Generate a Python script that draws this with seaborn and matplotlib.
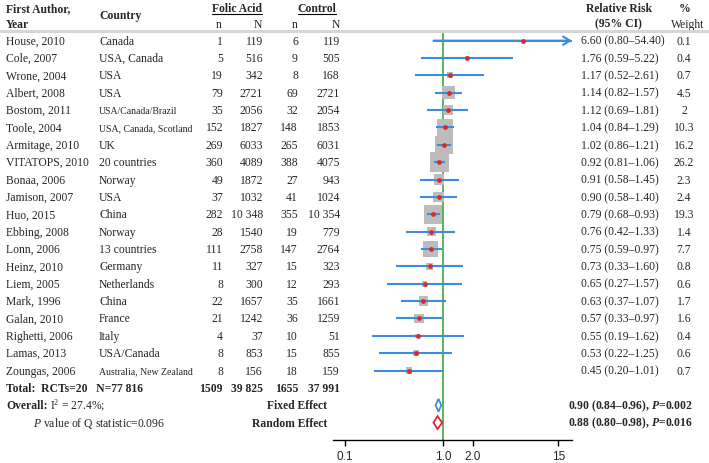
import numpy as np
import pandas as pd
import seaborn as sns
import matplotlib.pyplot as plt
from matplotlib.transforms import blended_transform_factory
from matplotlib.lines import Line2D

# study data
authors = ["House, 2010", "Cole, 2007", "Wrone, 2004", "Albert, 2008", "Bostom, 2011",
           "Toole, 2004", "Armitage, 2010", "VITATOPS, 2010", "Bonaa, 2006", "Jamison, 2007",
           "Huo, 2015", "Ebbing, 2008", "Lonn, 2006", "Heinz, 2010", "Liem, 2005",
           "Mark, 1996", "Galan, 2010", "Righetti, 2006", "Lamas, 2013", "Zoungas, 2006"]
countries = ["Canada", "USA, Canada", "USA", "USA", "USA/Canada/Brazil",
             "USA, Canada, Scotland", "UK", "20 countries", "Norway", "USA",
             "China", "Norway", "13 countries", "Germany", "Netherlands",
             "China", "France", "Italy", "USA/Canada", "Australia, New Zealand"]
fa_n = [1, 5, 19, 79, 35, 152, 269, 360, 49, 37, 282, 28, 111, 11, 8, 22, 21, 4, 8, 8]
fa_N = [119, 516, 342, 2721, 2056, 1827, 6033, 4089, 1872, 1032, 10348, 1540, 2758,
        327, 300, 1657, 1242, 37, 853, 156]
ct_n = [6, 9, 8, 69, 32, 148, 265, 388, 27, 41, 355, 19, 147, 15, 12, 35, 36, 10, 15, 18]
ct_N = [119, 505, 168, 2721, 2054, 1853, 6031, 4075, 943, 1024, 10354, 779, 2764,
        323, 293, 1661, 1259, 51, 855, 159]
rr = [6.60, 1.76, 1.17, 1.14, 1.12, 1.04, 1.02, 0.92, 0.91, 0.90, 0.79, 0.76, 0.75,
      0.73, 0.65, 0.63, 0.57, 0.55, 0.53, 0.45]
lo = [0.80, 0.59, 0.52, 0.82, 0.69, 0.84, 0.86, 0.81, 0.58, 0.58, 0.68, 0.42, 0.59,
      0.33, 0.27, 0.37, 0.33, 0.19, 0.22, 0.20]
hi = [54.40, 5.22, 2.61, 1.57, 1.81, 1.29, 1.21, 1.06, 1.45, 1.40, 0.93, 1.33, 0.97,
      1.60, 1.57, 1.07, 0.97, 1.62, 1.25, 1.01]
weight = [0.1, 0.4, 0.7, 4.5, 2, 10.3, 16.2, 26.2, 2.3, 2.4, 19.3, 1.4, 7.7,
          0.8, 0.6, 1.7, 1.6, 0.4, 0.6, 0.7]
weight_labels = ["0.1", "0.4", "0.7", "4.5", "2", "10.3", "16.2", "26.2", "2.3", "2.4",
                 "19.3", "1.4", "7.7", "0.8", "0.6", "1.7", "1.6", "0.4", "0.6", "0.7"]

totals = [1509, 39825, 1655, 37991]
n_rcts = 20
n_total = 77816
fixed = (0.90, 0.84, 0.96, "0.002")
random_eff = (0.88, 0.80, 0.98, "0.016")
i2 = "27.4%"
q_p = "0.096"

xticks = [0.1, 1.0, 2.0, 15]
xtick_labels = ["0.1", "1.0", "2.0", "15"]

# colours
SQ = "#bcbcbc"
RED = "#e0262b"
BLUE = "#3a8de3"
GREEN = "#4cae4f"

sns.set_style("white")
plt.rcParams['font.family'] = ['Liberation Serif', 'DejaVu Serif']
plt.rcParams['mathtext.fontset'] = 'custom'
plt.rcParams['mathtext.rm'] = 'Liberation Serif'
plt.rcParams['mathtext.it'] = 'Liberation Serif:italic'
plt.rcParams['mathtext.bf'] = 'Liberation Serif:bold'
plt.rcParams['mathtext.bfit'] = 'Liberation Serif:italic:bold'

W, H = 709, 464
fig = plt.figure(figsize=(W / 100, H / 100), dpi=100)
ax = fig.add_axes([333 / W, 1 - 441 / H, (572 - 333) / W, (441 - 33) / H])
ax.set_xscale('log')
xmin, xmax = 0.0755, 20.7
ax.set_xlim(xmin, xmax)
ax.set_ylim(23, -0.5)

df = pd.DataFrame({"rr": rr, "lo": lo, "hi": hi, "weight": weight,
                   "row": np.arange(len(authors))})
# square side grows with log of weight (px -> pt)
side = np.clip(7.5 + 3.7 * np.log(df["weight"]), 0, None) * 0.72

ax.axvline(1.0, color=GREEN, lw=1.3, zorder=1)
sns.scatterplot(data=df, x="rr", y="row", marker="s", s=(side ** 2).to_numpy(),
                color=SQ, linewidth=0, ax=ax, zorder=2, legend=False)
ax.hlines(df["row"], df["lo"], np.minimum(df["hi"], xmax), color=BLUE, lw=1.5, zorder=3)
for _, r in df[df["hi"] > xmax].iterrows():
    ax.annotate("", xy=(xmax, r["row"]), xytext=(r["lo"], r["row"]),
                arrowprops=dict(arrowstyle="->,head_length=0.5,head_width=0.3",
                                color=BLUE, lw=1.5, shrinkA=0, shrinkB=0),
                annotation_clip=False, zorder=3)
sns.scatterplot(data=df, x="rr", y="row", s=12, color=RED, linewidth=0,
                ax=ax, zorder=4, legend=False)

# summary diamonds
h = 0.37
for k, (est, l, u, _), col in [(21, fixed, BLUE), (22, random_eff, RED)]:
    ax.fill([l, est, u, est, l], [k, k - h, k, k + h, k], facecolor="none",
            edgecolor=col, lw=1.3, zorder=3)

for s in ["left", "top", "right"]:
    ax.spines[s].set_visible(False)
ax.spines["bottom"].set_color("black")
ax.spines["bottom"].set_linewidth(1)
ax.set_xticks(xticks)
ax.set_xticklabels(xtick_labels)
ax.minorticks_off()
ax.set_yticks([])
ax.set_xlabel("")
ax.set_ylabel("")
ax.tick_params(axis="x", direction="out", length=4, width=1, color="black",
               labelsize=8.5, pad=3.5, bottom=True)
for t in ax.get_xticklabels():
    t.set_family("Liberation Sans")

# text columns
tr = blended_transform_factory(fig.transFigure, ax.transData)
fx = lambda p: p / W
fs = 8.4


def fmt(v):
    return f"{v:,}".replace(",", " ") if v >= 10000 else str(v)


def txt(x, y, s, ha="left", size=fs, weight="normal"):
    return ax.text(fx(x), y, s, ha=ha, va="center", fontsize=size, fontweight=weight,
                   transform=tr, clip_on=False)


# header
txt(6, -1.88, "First Author,", weight="bold")
txt(6, -0.98, "Year", weight="bold")
txt(99, -1.5, "Country", weight="bold")
fa_hdr = txt(237, -1.88, "Folic Acid", ha="center", weight="bold")
ct_hdr = txt(317, -1.88, "Control", ha="center", weight="bold")
for x, s in [(219, "n"), (258, "N"), (295, "n"), (336, "N")]:
    txt(x, -0.98, s, ha="center")
txt(619, -1.88, "Relative Risk", ha="center", weight="bold")
txt(618, -0.98, "(95% CI)", ha="center", weight="bold")
txt(685, -1.88, "%", ha="center", weight="bold")
txt(688, -0.98, "Weight", ha="center")

for i in range(len(authors)):
    txt(6, i, authors[i])
    txt(99, i, countries[i], size=7 if len(countries[i]) > 15 else fs)
    for x, v in zip([223, 263, 298, 340], [fa_n[i], fa_N[i], ct_n[i], ct_N[i]]):
        txt(x, i, fmt(v), ha="right")
    txt(581, i, f"{rr[i]:.2f} ({lo[i]:.2f}\u2013{hi[i]:.2f})")
    txt(684, i, weight_labels[i], ha="center")

txt(6, 20, f"Total:  RCTs={n_rcts}   N={fmt(n_total)}", weight="bold")
for x, v in zip([223, 263, 298, 340], totals):
    txt(x, 20, fmt(v), ha="right", weight="bold")

overall = txt(6, 21, "Overall:", weight="bold")
txt(33, 22, r"$\mathit{P}$ value of Q statistic=" + q_p)
txt(327, 21, "Fixed Effect", ha="right", weight="bold")
txt(327, 22, "Random Effect", ha="right", weight="bold")
for k, (est, l, u, p) in [(21, fixed), (22, random_eff)]:
    txt(568, k, f"{est:.2f} ({l:.2f}\u2013{u:.2f}), " + r"$\mathbfit{P}$=" + p, weight="bold")

# separator under header
fig.add_artist(Line2D([0, 1], [-0.56, -0.56], transform=tr, color="#d6d6d6", lw=2.2))

fig.canvas.draw()
inv = fig.transFigure.inverted()

# rest of the overall line right after the bold label
bb = overall.get_window_extent().transformed(inv)
ax.text(bb.x1 + 3 / W, 21, "I$^{2}$ = " + i2 + ";", ha="left", va="center",
        fontsize=fs, transform=tr, clip_on=False)

# underline group headers
for t in [fa_hdr, ct_hdr]:
    bb = t.get_window_extent().transformed(inv)
    fig.add_artist(Line2D([bb.x0, bb.x1], [bb.y0, bb.y0], transform=fig.transFigure,
                          color="black", lw=0.8))

fig.savefig("out.png", dpi=100)
